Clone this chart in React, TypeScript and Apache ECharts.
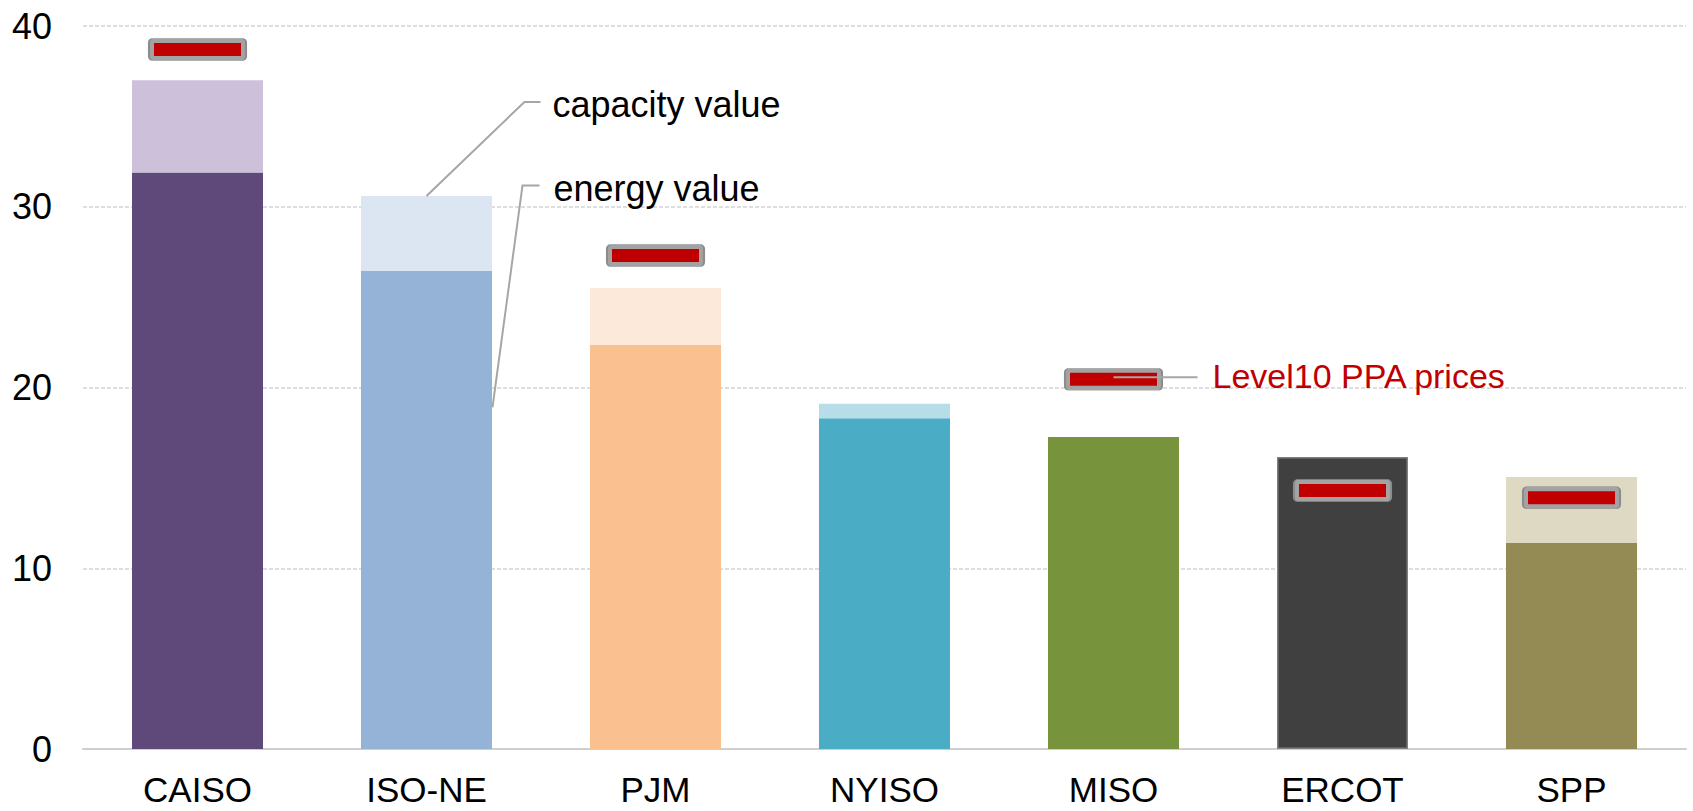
import React, { useEffect, useRef } from "react";
import * as echarts from "echarts";

const categories = ["CAISO", "ISO-NE", "PJM", "NYISO", "MISO", "ERCOT", "SPP"];
const energyValue = [31.9, 26.45, 22.35, 18.3, 17.26, 16.15, 11.4];
const capacityValue = [5.1, 4.15, 3.15, 0.8, 0, 0, 3.65];
const ppaPrices: (number | null)[] = [38.7, null, 27.3, null, 20.45, 14.3, 13.9];
const yTicks = [0, 10, 20, 30, 40];

const energyColors = ["#5f497a", "#95b3d7", "#fac090", "#4bacc6", "#77933c", "#404040", "#948a54"];
const capacityColors = ["#ccc0da", "#dce6f2", "#fde9d9", "#b7dee8", "#d7e4bd", "#808080", "#ddd9c3"];

const FONT = '"Liberation Sans", Arial, sans-serif';
const ROUND_RECT = "path://M4,0H93A4,4 0 0 1 97,4V18A4,4 0 0 1 93,22H4A4,4 0 0 1 0,18V4A4,4 0 0 1 4,0Z";

export default function App() {
  const ref = useRef<HTMLDivElement>(null);
  useEffect(() => {
    if (!ref.current) return;
    const chart = echarts.init(ref.current, undefined, { renderer: "svg" });
    const ppaData = ppaPrices.map((v) => (v == null ? "-" : v));
    const option: any = {
      animation: false,
      grid: { left: 83, right: 7, top: 26, bottom: 62, containLabel: false },
      xAxis: {
        type: "category",
        data: categories,
        axisTick: { show: false },
        axisLine: { lineStyle: { color: "#cfcfcf", width: 2 } },
        axisLabel: { color: "#000", fontSize: 35, fontFamily: FONT, margin: 23 },
      },
      yAxis: {
        type: "value",
        min: yTicks[0],
        max: yTicks[yTicks.length - 1],
        interval: 10,
        axisLine: { show: false },
        axisTick: { show: false },
        axisLabel: { color: "#000", fontSize: 36, fontFamily: FONT, margin: 31 },
        splitLine: { lineStyle: { color: "#d4d4d4", type: [4, 2], width: 1.5 } },
      },
      series: [
        {
          type: "bar",
          stack: "total",
          barWidth: 131,
          data: energyValue.map((v, i) => ({
            value: v,
            itemStyle: {
              color: energyColors[i],
              borderColor: i === 5 ? "#7f7f7f" : energyColors[i],
              borderWidth: i === 5 ? 1.5 : 0,
            },
          })),
        },
        {
          type: "bar",
          stack: "total",
          barWidth: 131,
          data: capacityValue.map((v, i) => ({
            value: v,
            itemStyle: { color: capacityColors[i] },
          })),
        },
        {
          type: "scatter",
          symbol: ROUND_RECT,
          symbolSize: [97, 22],
          z: 5,
          itemStyle: { color: "#a3a3a3", opacity: 1, borderColor: "#8c8c8c", borderWidth: 1 },
          data: ppaData,
        },
        {
          type: "scatter",
          symbol: "rect",
          symbolSize: [87, 13],
          z: 6,
          itemStyle: { color: "#c00000", opacity: 1 },
          data: ppaData,
        },
      ],
    };
    chart.setOption(option);

    const px = (i: number, v: number) => chart.convertToPixel({ xAxisIndex: 0, yAxisIndex: 0 }, [i, v]) as number[];
    const isone = 1;
    const capAnchor = px(isone, energyValue[isone] + capacityValue[isone]);
    const energyAnchor = px(isone, 18.9);
    const misoIdx = 4;
    const ppaAnchor = px(misoIdx, ppaPrices[misoIdx] as number);
    const lineStyle = { stroke: "#a6a6a6", lineWidth: 2, fill: null };

    chart.setOption({
      graphic: [
        {
          type: "polyline",
          z: 10,
          shape: {
            points: [
              [capAnchor[0], capAnchor[1]],
              [capAnchor[0] + 98, capAnchor[1] - 94],
              [capAnchor[0] + 114, capAnchor[1] - 94],
            ],
          },
          style: lineStyle,
        },
        {
          type: "text",
          z: 10,
          x: capAnchor[0] + 126,
          y: capAnchor[1] - 91,
          style: { text: "capacity value", fill: "#000", fontSize: 36, fontFamily: FONT, verticalAlign: "middle" },
        },
        {
          type: "polyline",
          z: 10,
          shape: {
            points: [
              [energyAnchor[0] + 66, energyAnchor[1]],
              [energyAnchor[0] + 96, energyAnchor[1] - 222],
              [energyAnchor[0] + 113, energyAnchor[1] - 222],
            ],
          },
          style: lineStyle,
        },
        {
          type: "text",
          z: 10,
          x: energyAnchor[0] + 127,
          y: energyAnchor[1] - 219,
          style: { text: "energy value", fill: "#000", fontSize: 36, fontFamily: FONT, verticalAlign: "middle" },
        },
        {
          type: "line",
          z: 10,
          shape: { x1: ppaAnchor[0], y1: ppaAnchor[1] - 2, x2: ppaAnchor[0] + 84, y2: ppaAnchor[1] - 2 },
          style: { stroke: "#a6a6a6", lineWidth: 2 },
        },
        {
          type: "text",
          z: 10,
          x: ppaAnchor[0] + 99,
          y: ppaAnchor[1] - 3,
          style: { text: "Level10 PPA prices", fill: "#c00000", fontSize: 34, fontFamily: FONT, verticalAlign: "middle" },
        },
      ],
    });

    return () => chart.dispose();
  }, []);
  return (
    <div
      ref={ref}
      style={{ position: "fixed", left: 0, top: 0, width: 1693, height: 811, background: "#fff" }}
    />
  );
}
